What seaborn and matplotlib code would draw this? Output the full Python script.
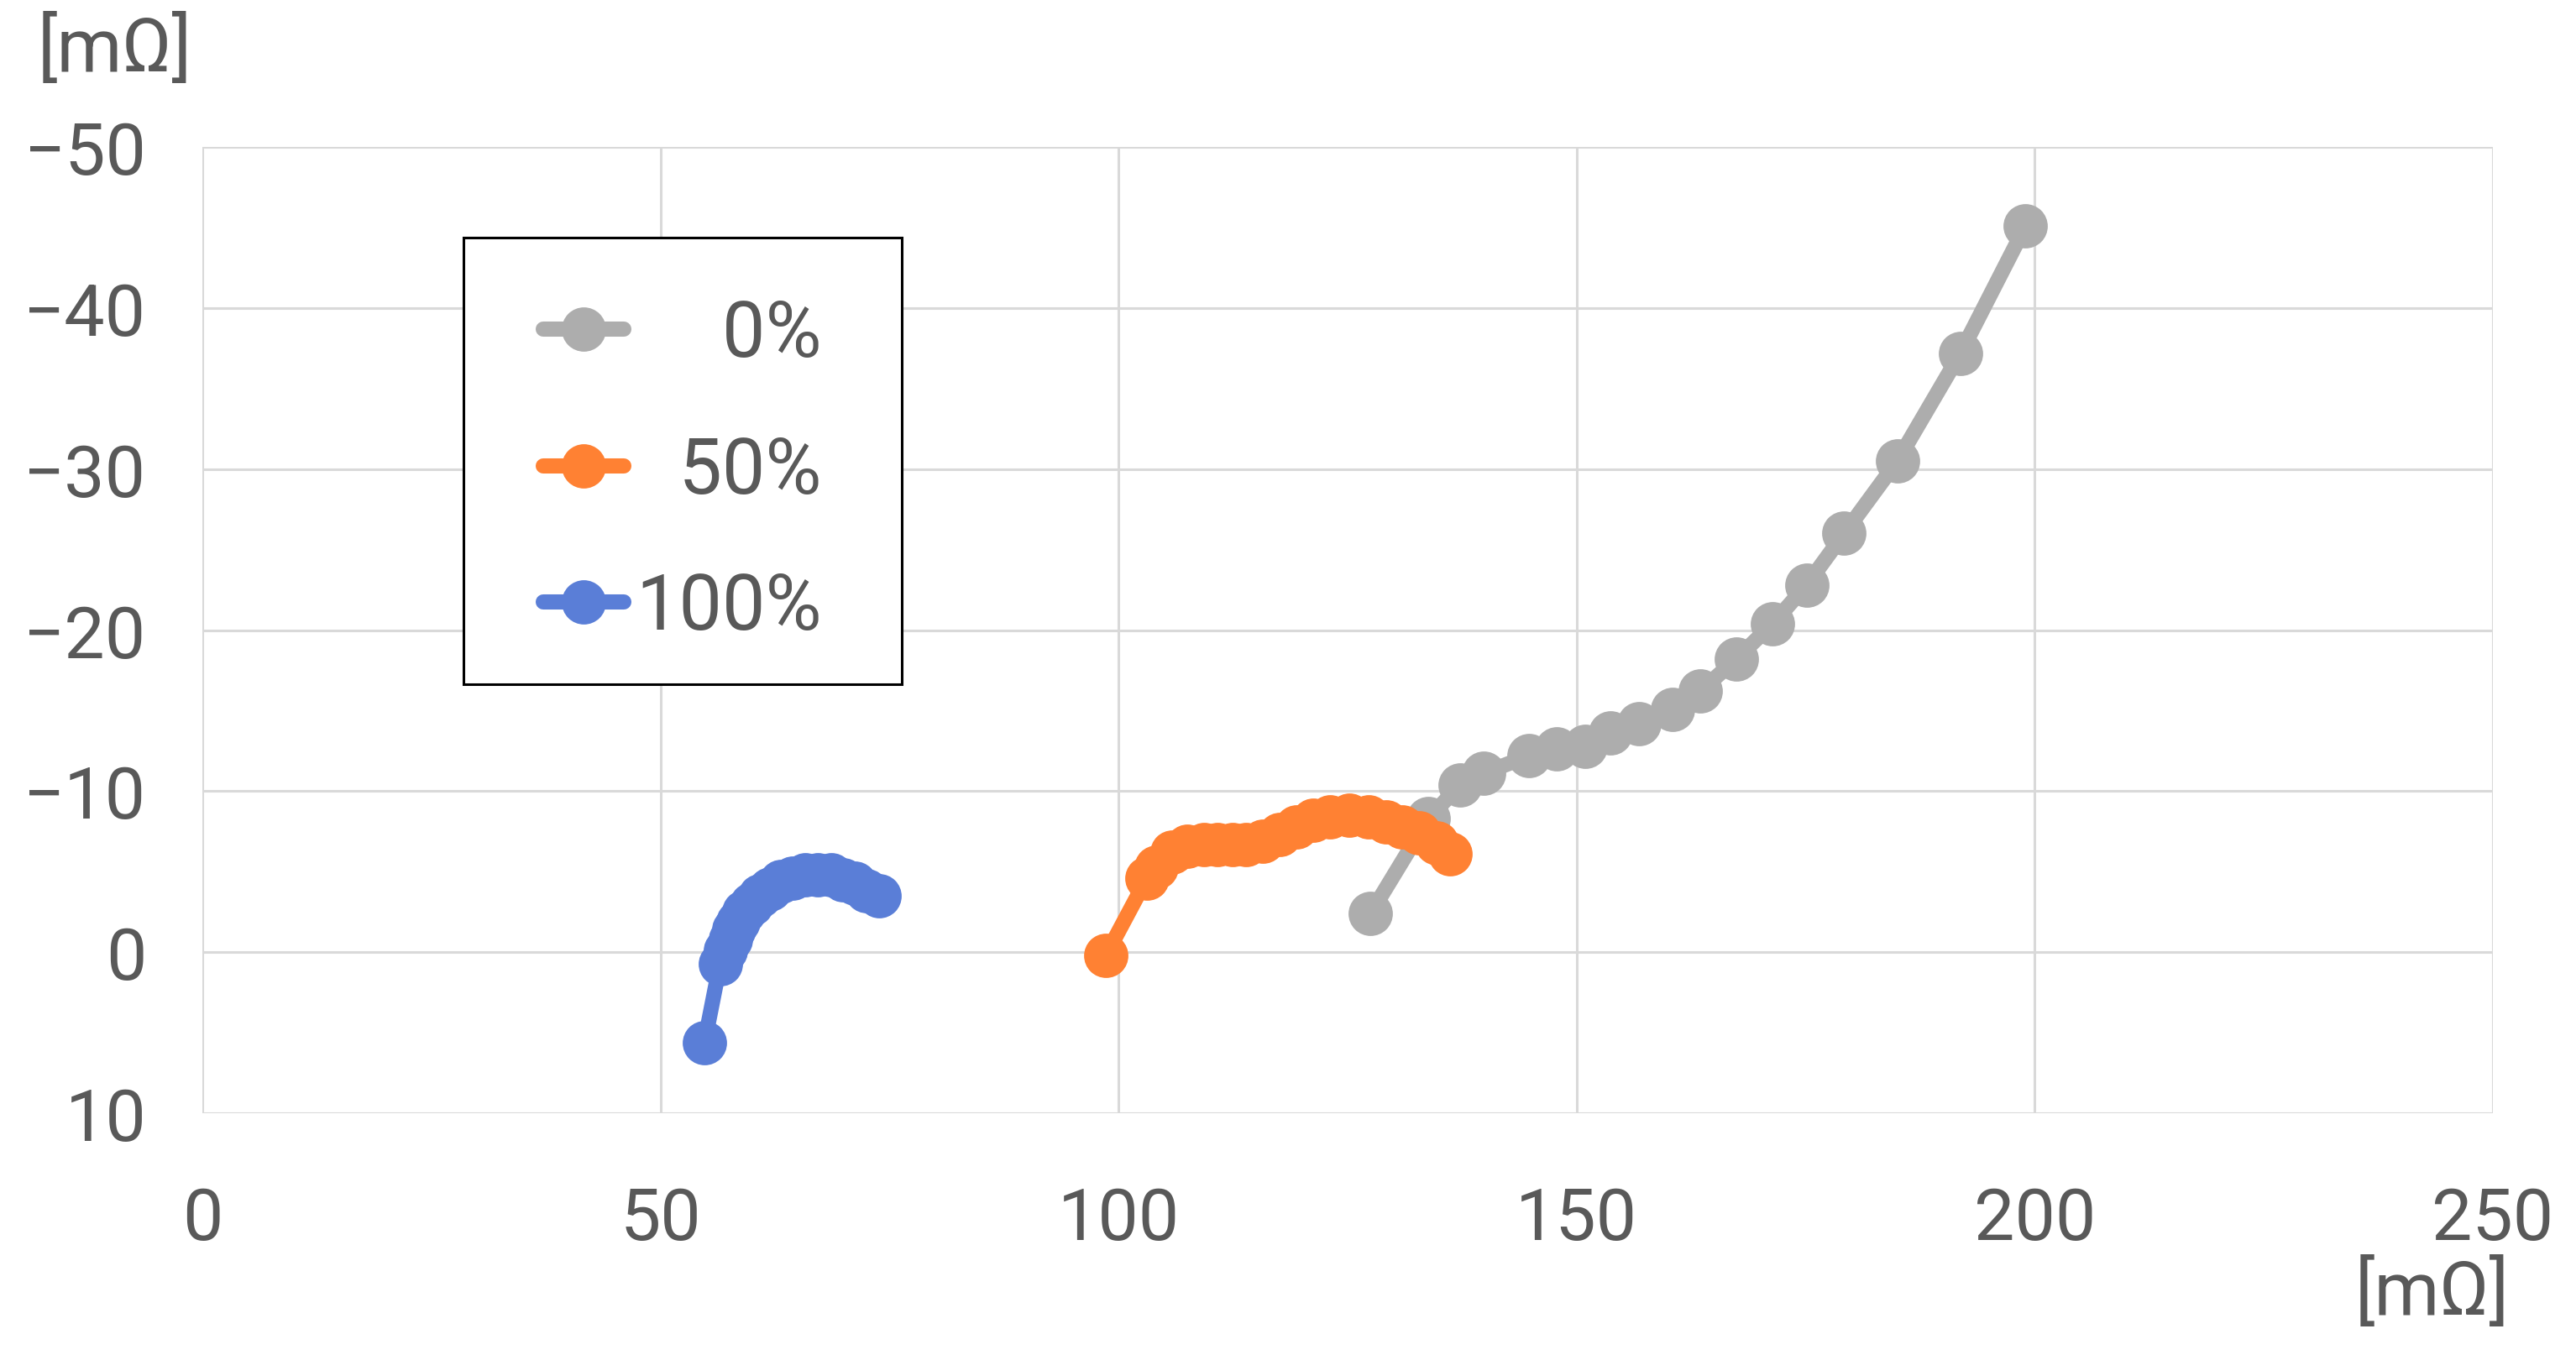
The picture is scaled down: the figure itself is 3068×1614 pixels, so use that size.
import pandas as pd
import matplotlib.pyplot as plt
import seaborn as sns
from matplotlib.lines import Line2D
from matplotlib.patches import Rectangle

soc_labels = ["0%", "50%", "100%"]

re_0 = [127.5, 133.8, 137.3, 139.8, 144.8, 147.8, 150.9, 153.7, 156.8, 160.5,
        163.5, 167.4, 171.4, 175.1, 179.2, 185.0, 191.9, 199.0]
im_0 = [-2.4, -8.3, -10.4, -11.1, -12.2, -12.6, -12.8, -13.6, -14.2, -15.1,
        -16.2, -18.2, -20.4, -22.8, -26.0, -30.5, -37.2, -45.1]

re_50 = [98.6, 103.1, 104.1, 105.8, 107.5, 109.3, 110.8, 112.4, 113.9, 115.7,
         117.6, 119.4, 121.2, 123.1, 125.2, 127.3, 129.2, 131.0, 132.8, 134.7, 136.2]
im_50 = [0.2, -4.6, -5.3, -6.2, -6.6, -6.7, -6.7, -6.7, -6.7, -6.9,
         -7.3, -7.8, -8.2, -8.4, -8.5, -8.4, -8.1, -7.8, -7.4, -6.8, -6.1]

re_100 = [54.8, 56.5, 57.1, 57.6, 58.0, 58.5, 59.1, 59.9, 60.8, 61.9,
          63.1, 64.4, 65.8, 67.2, 68.6, 69.9, 71.2, 72.5, 73.9]
im_100 = [5.6, 0.7, -0.1, -0.8, -1.4, -1.9, -2.5, -3.0, -3.5, -3.9,
          -4.4, -4.6, -4.8, -4.8, -4.8, -4.5, -4.3, -3.8, -3.5]

x_ticks = [0, 50, 100, 150, 200, 250]
y_ticks = [-50, -40, -30, -20, -10, 0, 10]

colors = {"0%": "#ADADAD", "50%": "#FF8133", "100%": "#5A7ED7"}

frames = []
for lab, xs, ys in [("0%", re_0, im_0), ("50%", re_50, im_50), ("100%", re_100, im_100)]:
    frames.append(pd.DataFrame({"re": xs, "im": ys, "soc": lab}))
df = pd.concat(frames, ignore_index=True)

sns.set_theme(style="white")
plt.rcParams["font.family"] = ["Roboto", "DejaVu Sans"]
text_col = "#595959"
msize = 19
lw = 6.5

fig = plt.figure(figsize=(15.34, 8.075), dpi=200)
ax = fig.add_axes([0.0786, 0.1783, 0.8891, 0.7127])

sns.lineplot(data=df, x="re", y="im", hue="soc", hue_order=soc_labels,
             palette=colors, sort=False, estimator=None, units="soc",
             marker="o", markersize=msize, markeredgewidth=0, linewidth=lw,
             legend=False, ax=ax, zorder=3)
for ln in ax.get_lines():
    ln.set_solid_capstyle("round")
    ln.set_solid_joinstyle("round")

ax.set_xlim(0, 250)
ax.set_ylim(10, -50)
ax.set_xticks(x_ticks)
ax.set_yticks(y_ticks)
ax.grid(True, color="#D9D9D9", linewidth=1.1)
for s in ax.spines.values():
    s.set_visible(False)
ax.tick_params(axis="both", length=0, labelsize=31, colors=text_col)
ax.tick_params(axis="y", pad=24)
ax.tick_params(axis="x", pad=31)
ax.set_xlabel("")
ax.set_ylabel("")

fig.text(0.0447, 0.963, "[mΩ]", fontsize=32, color=text_col, ha="center", va="center")
fig.text(0.944, 0.046, "[mΩ]", fontsize=32, color=text_col, ha="center", va="center")

# legend box drawn separately so its size matches the original
box = (0.18, 0.4947, 0.17, 0.3294)
ax.add_patch(Rectangle(box[:2], box[2], box[3], transform=fig.transFigure,
                       facecolor="white", edgecolor="black", linewidth=1.1,
                       zorder=4, clip_on=False))

handles = [Line2D([0], [0], color=colors[l], marker="o", markersize=msize,
                  markeredgewidth=0, linewidth=lw, solid_capstyle="round")
           for l in soc_labels]
names = ["\u2007\u20070%", "\u200750%", "100%"]
leg_box = (box[0], box[1] - 0.0075, box[2], box[3])
leg = ax.legend(handles, names, loc="center", bbox_to_anchor=leg_box,
                bbox_transform=fig.transFigure, borderaxespad=0, fontsize=33,
                frameon=False, handlelength=1.05, handletextpad=0.15,
                borderpad=0, labelspacing=0.8, labelcolor=text_col)
leg.set_zorder(5)

fig.savefig("out.png", dpi=200)
